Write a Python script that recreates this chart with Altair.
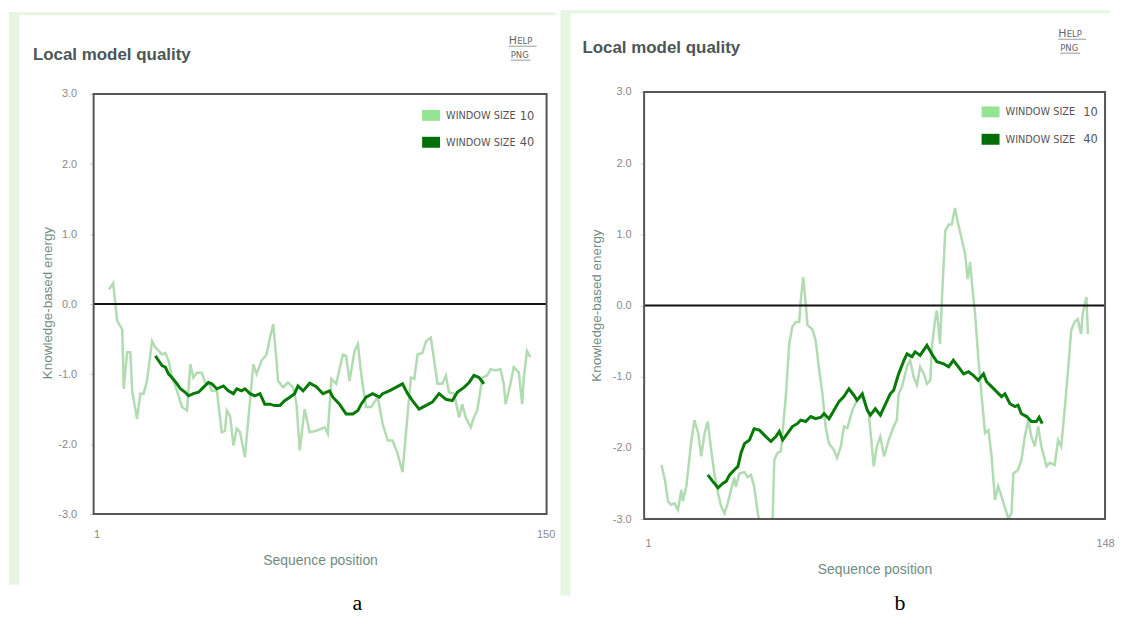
import altair as alt
import pandas as pd

# ---------------- data ----------------
# Panel a, window size 10
a_w10_pos = [5.1, 6.5, 7.8, 9.5, 10.0, 11.1, 12.2, 12.8, 14.4, 15.5,
             16.6, 17.7, 19.4, 20.5, 21.6, 22.7, 23.8, 24.9, 26.0, 27.7,
             29.3, 31.0, 32.1, 33.1, 34.3, 35.9, 37.0, 38.1, 39.2, 40.9,
             42.5, 43.6, 44.2, 45.3, 46.4, 47.5, 48.6, 50.2, 51.3, 53.0,
             54.1, 55.7, 57.4, 58.5, 59.6, 60.7, 61.2, 62.9, 64.5, 66.2,
             67.3, 68.4, 70.0, 71.7, 73.9, 76.7, 77.7, 78.9, 80.5, 82.7,
             83.8, 84.9, 86.6, 87.7, 88.8, 90.4, 92.1, 94.3, 95.9, 97.6,
             99.2, 100.9, 102.5, 104.2, 105.3, 106.4, 107.5, 109.1, 110.3, 111.9,
             113.0, 114.1, 115.7, 116.9, 117.9, 119.6, 121.3, 122.3, 123.5, 125.1,
             126.2, 127.3, 129.0, 130.6, 131.7, 133.4, 135.0, 136.1, 136.7, 138.3,
             139.4, 141.1, 142.2, 142.7, 143.8, 144.9]
a_w10_val = [0.21, 0.30, -0.24, -0.36, -1.21, -0.69, -0.69, -1.24, -1.64, -1.28,
             -1.28, -1.10, -0.53, -0.62, -0.67, -0.72, -0.70, -0.81, -1.05, -1.24,
             -1.47, -1.52, -0.86, -1.05, -0.98, -0.98, -1.12, -1.12, -1.24, -1.24,
             -1.83, -1.81, -1.52, -1.60, -2.02, -1.78, -1.83, -2.19, -1.66, -0.86,
             -1.00, -0.81, -0.72, -0.48, -0.29, -0.81, -1.10, -1.19, -1.12, -1.19,
             -1.42, -2.09, -1.50, -1.83, -1.81, -1.76, -1.85, -1.07, -1.14, -0.72,
             -0.74, -1.10, -0.67, -0.57, -1.00, -1.47, -1.47, -1.33, -1.71, -1.95,
             -1.95, -2.14, -2.40, -1.57, -1.05, -1.07, -0.72, -0.70, -0.53, -0.48,
             -0.81, -1.14, -1.14, -1.02, -1.26, -1.28, -1.62, -1.43, -1.62, -1.76,
             -1.62, -1.52, -1.05, -1.02, -0.93, -0.95, -0.93, -1.14, -1.43, -1.14,
             -0.90, -0.98, -1.43, -1.07, -0.67, -0.76]

# Panel a, window size 40
a_w40_pos = [20.5, 21.6, 22.7, 23.8, 24.9, 26.0, 27.7, 28.8, 30.4, 31.5,
             33.1, 34.8, 36.4, 38.1, 39.2, 40.9, 43.1, 44.7, 46.4, 47.5,
             49.1, 50.2, 51.9, 53.5, 55.2, 56.8, 58.5, 60.1, 61.8, 63.4,
             65.1, 66.7, 67.8, 69.5, 71.7, 73.9, 76.1, 78.3, 79.4, 81.6,
             83.8, 86.0, 87.7, 88.8, 90.4, 92.6, 94.8, 95.9, 98.1, 100.3,
             102.5, 104.2, 105.8, 108.0, 110.2, 112.4, 114.6, 116.9, 119.0, 120.7,
             122.9, 124.6, 126.2, 127.9, 129.5]
a_w40_val = [-0.74, -0.81, -0.88, -0.90, -1.00, -1.05, -1.14, -1.21, -1.26, -1.31,
             -1.28, -1.26, -1.19, -1.12, -1.14, -1.21, -1.17, -1.24, -1.28, -1.21,
             -1.24, -1.21, -1.28, -1.31, -1.28, -1.43, -1.43, -1.45, -1.45, -1.38,
             -1.33, -1.28, -1.17, -1.24, -1.13, -1.18, -1.28, -1.24, -1.33, -1.43,
             -1.57, -1.57, -1.52, -1.43, -1.33, -1.28, -1.33, -1.28, -1.24, -1.19,
             -1.14, -1.28, -1.38, -1.50, -1.45, -1.40, -1.28, -1.36, -1.38, -1.26,
             -1.19, -1.12, -1.02, -1.05, -1.14]

# Panel b, window size 10
b_w10_pos = [5.3, 6.4, 7.4, 8.4, 9.5, 10.6, 11.7, 12.2, 13.3, 14.8,
             15.9, 17.1, 18.1, 19.2, 20.2, 21.3, 22.3, 23.5, 24.5, 25.6,
             26.6, 27.7, 28.7, 29.2, 30.4, 32.0, 33.0, 34.1, 35.1, 36.3,
             37.5, 39.4, 41.0, 41.6, 42.6, 43.7, 45.3, 46.4, 47.4, 48.5,
             49.6, 50.1, 50.9, 51.7, 52.3, 53.8, 54.9, 55.9, 57.1, 58.1,
             59.2, 60.8, 61.8, 63.0, 64.0, 65.1, 66.7, 68.2, 69.9, 72.0,
             73.6, 74.6, 75.7, 76.9, 78.4, 80.0, 81.0, 81.6, 82.7, 84.3,
             85.3, 86.4, 87.5, 88.5, 89.7, 90.7, 91.8, 92.3, 93.3, 93.9,
             94.9, 95.4, 96.6, 97.7, 98.7, 99.7, 100.8, 101.9, 103.0, 103.8,
             104.6, 105.1, 106.2, 107.2, 108.3, 109.4, 110.5, 111.5, 112.6, 113.6,
             114.7, 115.8, 116.9, 117.9, 118.5, 120.0, 121.1, 122.2, 123.3, 124.3,
             125.4, 126.5, 127.5, 129.2, 130.2, 131.8, 132.9, 133.9, 134.9, 136.1,
             137.1, 138.2, 139.2, 140.3, 140.8, 142.0, 142.5]
b_w10_val = [-2.24, -2.45, -2.75, -2.80, -2.78, -2.87, -2.59, -2.75, -2.54, -1.94,
             -1.61, -1.79, -2.12, -1.79, -1.63, -2.03, -2.36, -2.64, -2.82, -2.92,
             -2.78, -2.59, -2.42, -2.55, -2.36, -2.34, -2.41, -2.38, -2.54, -2.92,
             -3.20, -3.30, -3.10, -2.17, -2.07, -2.05, -1.28, -0.54, -0.30, -0.23,
             -0.23, 0.07, 0.40, 0.02, -0.28, -0.33, -0.49, -0.86, -1.24, -1.70,
             -1.94, -2.03, -2.14, -1.98, -1.70, -1.72, -1.47, -1.33, -1.28, -1.52,
             -2.26, -1.98, -1.84, -2.12, -1.89, -1.70, -1.61, -1.24, -1.14, -0.86,
             -0.77, -1.00, -1.12, -0.86, -0.96, -1.10, -1.05, -0.58, -0.21, -0.07,
             -0.54, -0.02, 1.05, 1.14, 1.14, 1.37, 1.14, 0.93, 0.72, 0.37,
             0.61, 0.35, -0.12, -0.72, -1.28, -1.79, -1.75, -2.12, -2.73, -2.54,
             -2.68, -2.84, -2.99, -2.92, -2.36, -2.31, -2.17, -1.84, -1.61, -1.84,
             -1.98, -1.70, -1.98, -2.26, -2.21, -2.24, -1.89, -1.98, -1.52, -0.91,
             -0.35, -0.23, -0.19, -0.40, -0.12, 0.12, -0.40]

# Panel b, window size 40
b_w40_pos = [20.2, 21.8, 23.5, 25.0, 26.1, 27.2, 28.7, 29.9, 30.9, 32.0,
             33.6, 35.1, 36.8, 38.4, 40.5, 42.1, 43.2, 44.3, 45.8, 47.4,
             49.0, 50.1, 51.7, 53.3, 54.9, 56.6, 57.6, 59.2, 60.8, 62.4,
             64.0, 65.6, 67.2, 68.2, 69.9, 71.5, 72.5, 74.1, 75.7, 77.4,
             78.9, 80.0, 81.6, 83.3, 84.3, 85.9, 86.9, 88.5, 90.7, 92.3,
             93.9, 96.1, 97.7, 99.2, 100.8, 102.5, 104.1, 105.6, 107.2, 108.9,
             109.9, 111.5, 113.1, 114.7, 115.8, 117.4, 119.0, 120.0, 121.1, 122.8,
             124.3, 125.9, 126.8, 127.8]
b_w40_val = [-2.38, -2.47, -2.56, -2.50, -2.47, -2.38, -2.31, -2.26, -2.07, -1.94,
             -1.89, -1.73, -1.75, -1.82, -1.91, -1.84, -1.77, -1.89, -1.80, -1.70,
             -1.66, -1.61, -1.63, -1.56, -1.59, -1.57, -1.52, -1.59, -1.47, -1.35,
             -1.28, -1.17, -1.26, -1.33, -1.24, -1.47, -1.54, -1.45, -1.54, -1.38,
             -1.24, -1.19, -0.96, -0.77, -0.68, -0.72, -0.65, -0.70, -0.56, -0.68,
             -0.79, -0.82, -0.86, -0.77, -0.86, -0.96, -0.93, -0.98, -1.05, -0.96,
             -1.07, -1.14, -1.21, -1.28, -1.24, -1.38, -1.42, -1.40, -1.52, -1.56,
             -1.63, -1.63, -1.57, -1.66]

y_tick_values = [-3.0, -2.0, -1.0, 0.0, 1.0, 2.0, 3.0]
a_x_ticks = [1, 150]
b_x_ticks = [1, 148]
panel_title = "Local model quality"
legend_words = "WINDOW SIZE"
legend_nums = ["10", "40"]
panel_letters = ["a", "b"]

# ---------------- styling ----------------
LIGHT = "#b1dbb1"
DARK = "#087a08"
SW_LIGHT = "#93e593"
SW_DARK = "#006f0a"
CARD = "#e7f6e2"
FONT = "Liberation Sans"
LABEL_C = "#8a8a8a"
TITLE_C = "#6f8c80"

one = pd.DataFrame({"k": [0]})


def box(x0, x1, y0, y1, color):
    return alt.Chart(one).mark_rect(color=color).encode(
        x=alt.value(x0), x2=alt.value(x1), y=alt.value(y0), y2=alt.value(y1))


def txt(text, x, y, size, color, weight="normal", font=FONT, align="left"):
    return alt.Chart(one).mark_text(
        text=text, align=align, baseline="alphabetic", fontSize=size,
        fontWeight=weight, font=font, color=color).encode(x=alt.value(x), y=alt.value(y))


def hline(x0, x1, y, color="#999999"):
    return alt.Chart(one).mark_rule(color=color, strokeWidth=1).encode(
        x=alt.value(x0), x2=alt.value(x1), y=alt.value(y))


def panel(p10, v10, p40, v40, W, H, xdom, xticks, ydom, g, letter):
    x = alt.X("pos:Q", scale=alt.Scale(domain=xdom, nice=False, zero=False),
              axis=alt.Axis(values=xticks, title="Sequence position", grid=False,
                            domain=False, ticks=False, labelFlush=False,
                            labelPadding=g["xlp"], labelFont=FONT, labelFontSize=11,
                            labelColor=LABEL_C, titleFont=FONT, titleFontSize=14,
                            titleFontWeight="normal", titleColor=TITLE_C,
                            titlePadding=g["xtp"]))
    y = alt.Y("value:Q", scale=alt.Scale(domain=ydom, nice=False, zero=False),
              axis=alt.Axis(values=y_tick_values,
                            labelExpr="replace(format(datum.value, '.1f'), '\u2212', '-')",
                            title="Knowledge-based energy", grid=False, domain=False,
                            tickSize=4, tickColor="#d0d0d0", labelFlush=False,
                            labelPadding=g["ylp"], labelFont=FONT, labelFontSize=11,
                            labelColor=LABEL_C, titleFont=FONT, titleFontSize=13.5,
                            titleFontWeight="normal", titleColor=TITLE_C,
                            titlePadding=g["ytp"]))
    d10 = pd.DataFrame({"pos": p10, "value": v10})
    d40 = pd.DataFrame({"pos": p40, "value": v40})

    layers = [
        box(g["cx0"], g["cx1"], g["cy0"], g["cy0"] + 3, CARD),
        box(g["cx0"], g["cx0"] + 10, g["cy0"], g["cy1"], CARD),
        alt.Chart(d10).mark_line(color=LIGHT, strokeWidth=2.5, clip=True).encode(x=x, y=y),
        alt.Chart(one).mark_rule(color="#111111", strokeWidth=2).encode(y=alt.datum(0.0)),
        alt.Chart(d40).mark_line(color=DARK, strokeWidth=3, clip=True).encode(x=x, y=y),
        alt.Chart(one).mark_rect(fillOpacity=0, stroke="#555555", strokeWidth=2).encode(
            x=alt.value(0), x2=alt.value(W), y=alt.datum(3.0), y2=alt.datum(-3.0)),
        # title and links
        txt(panel_title, g["tx"], g["ty"], 17, "#4d5656", weight="bold"),
        txt("H", g["hx"], g["hy"], 11, "#666666", font="DejaVu Sans"),
        txt("ELP", g["hx"] + 8.5, g["hy"], 8.5, "#666666", font="DejaVu Sans"),
        hline(g["hx"], g["hx"] + 28, g["hy"] + 2),
        txt("PNG", g["hx"] + 2, g["hy"] + 14, 8.5, "#666666", font="DejaVu Sans"),
        hline(g["hx"] + 2, g["hx"] + 22, g["hy"] + 16),
        # legend
        box(g["lx"], g["lx"] + 18, g["ly1"] - 5.5, g["ly1"] + 5.5, SW_LIGHT),
        txt(legend_words, g["lx"] + 24, g["ly1"] + 3.4, 9.8, "#555555", font="DejaVu Sans"),
        txt(legend_nums[0], g["nx"], g["ly1"] + 4.2, 11.5, "#555555", font="DejaVu Sans"),
        box(g["lx"], g["lx"] + 18, g["ly2"] - 5.5, g["ly2"] + 5.5, SW_DARK),
        txt(legend_words, g["lx"] + 24, g["ly2"] + 3.4, 9.8, "#555555", font="DejaVu Sans"),
        txt(legend_nums[1], g["nx"], g["ly2"] + 4.2, 11.5, "#555555", font="DejaVu Sans"),
        # panel letter
        txt(letter, g["px"], 521, 22, "#000000", font="Liberation Serif", align="center"),
    ]
    return alt.layer(*layers).properties(width=W, height=H)


ga = dict(xlp=15, xtp=14, ylp=13, ytp=3,
          cx0=-85, cx1=464, cy0=-79, cy1=496,
          tx=-61, ty=-31, hx=417, hy=-47,
          lx=330, ly1=24.5, ly2=51.5, nx=428, px=265)
gb = dict(xlp=19, xtp=14, ylp=9, ytp=9,
          cx0=-84, cx1=468, cy0=-81, cy1=507,
          tx=-62, ty=-38, hx=416, hy=-54,
          lx=339, ly1=21, ly2=48.5, nx=441, px=257)

pa = panel(a_w10_pos, a_w10_val, a_w40_pos, a_w40_val, 455, 425,
           [0.0, 150.3], a_x_ticks, [-3.0, 3.043], ga, panel_letters[0])
pb = panel(b_w10_pos, b_w10_val, b_w40_pos, b_w40_val, 463, 430,
           [-0.28, 148.0], b_x_ticks, [-3.0, 3.014], gb, panel_letters[1])

chart = alt.hconcat(pa, pb, spacing=98, bounds="flush", padding=0).configure_view(
    stroke="transparent")

chart.save("out.html", embed_options={"renderer": "svg", "actions": False})
